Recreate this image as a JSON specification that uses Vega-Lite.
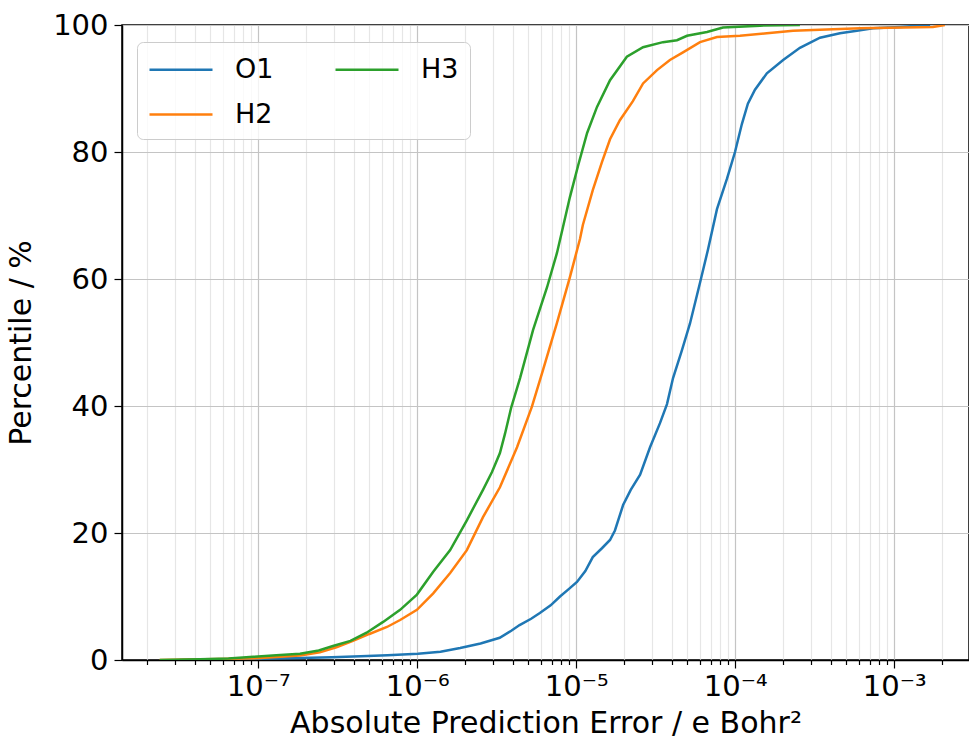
{
  "$schema": "https://vega.github.io/schema/vega-lite/v6.json",
  "width": 847,
  "height": 635,
  "autosize": {"type": "none"},
  "padding": {"left": 122, "top": 25, "right": 0, "bottom": 82},
  "background": "white",
  "config": {
    "font": "DejaVu Sans",
    "view": {"stroke": "black", "strokeWidth": 1.5},
    "axis": {
      "labelColor": "black",
      "titleColor": "black",
      "titleFontWeight": "normal",
      "domainColor": "black",
      "domainWidth": 1.5,
      "tickColor": "black",
      "tickWidth": 1.2
    }
  },
  "data": {
    "values": [
      {"series": "O1", "error": 3.2e-8, "pct": 0},
      {"series": "O1", "error": 5.7e-8, "pct": 0.1},
      {"series": "O1", "error": 1.03e-7, "pct": 0.2},
      {"series": "O1", "error": 1.83e-7, "pct": 0.3},
      {"series": "O1", "error": 2.9e-7, "pct": 0.45},
      {"series": "O1", "error": 4.4e-7, "pct": 0.6},
      {"series": "O1", "error": 6.5e-7, "pct": 0.75},
      {"series": "O1", "error": 1.01e-6, "pct": 1.0},
      {"series": "O1", "error": 1.4e-6, "pct": 1.3},
      {"series": "O1", "error": 1.86e-6, "pct": 1.9},
      {"series": "O1", "error": 2.5e-6, "pct": 2.6},
      {"series": "O1", "error": 3.3e-6, "pct": 3.5},
      {"series": "O1", "error": 3.9e-6, "pct": 4.6},
      {"series": "O1", "error": 4.4e-6, "pct": 5.5},
      {"series": "O1", "error": 5.2e-6, "pct": 6.5},
      {"series": "O1", "error": 5.9e-6, "pct": 7.4},
      {"series": "O1", "error": 6.9e-6, "pct": 8.6},
      {"series": "O1", "error": 7.9e-6, "pct": 10.0},
      {"series": "O1", "error": 9.0e-6, "pct": 11.2},
      {"series": "O1", "error": 1.01e-5, "pct": 12.3},
      {"series": "O1", "error": 1.14e-5, "pct": 14.0},
      {"series": "O1", "error": 1.27e-5, "pct": 16.2},
      {"series": "O1", "error": 1.45e-5, "pct": 17.6},
      {"series": "O1", "error": 1.63e-5, "pct": 18.9},
      {"series": "O1", "error": 1.75e-5, "pct": 20.4},
      {"series": "O1", "error": 1.97e-5, "pct": 24.4},
      {"series": "O1", "error": 2.2e-5, "pct": 26.8},
      {"series": "O1", "error": 2.52e-5, "pct": 29.2},
      {"series": "O1", "error": 2.91e-5, "pct": 33.5},
      {"series": "O1", "error": 3.36e-5, "pct": 37.3},
      {"series": "O1", "error": 3.72e-5, "pct": 40.3},
      {"series": "O1", "error": 4.06e-5, "pct": 44.4},
      {"series": "O1", "error": 4.62e-5, "pct": 48.8},
      {"series": "O1", "error": 5.19e-5, "pct": 53.0},
      {"series": "O1", "error": 6.0e-5, "pct": 59.4},
      {"series": "O1", "error": 6.73e-5, "pct": 64.6},
      {"series": "O1", "error": 7.67e-5, "pct": 71.0},
      {"series": "O1", "error": 8.87e-5, "pct": 75.8},
      {"series": "O1", "error": 9.96e-5, "pct": 80.0},
      {"series": "O1", "error": 1.10e-4, "pct": 84.4},
      {"series": "O1", "error": 1.2e-4, "pct": 87.6},
      {"series": "O1", "error": 1.33e-4, "pct": 89.8},
      {"series": "O1", "error": 1.58e-4, "pct": 92.4},
      {"series": "O1", "error": 2.0e-4, "pct": 94.5},
      {"series": "O1", "error": 2.55e-4, "pct": 96.4},
      {"series": "O1", "error": 3.41e-4, "pct": 98.0},
      {"series": "O1", "error": 4.55e-4, "pct": 98.7},
      {"series": "O1", "error": 5.82e-4, "pct": 99.1},
      {"series": "O1", "error": 7.35e-4, "pct": 99.5},
      {"series": "O1", "error": 1.09e-3, "pct": 99.7},
      {"series": "O1", "error": 1.68e-3, "pct": 100},

      {"series": "H2", "error": 2.4e-8, "pct": 0},
      {"series": "H2", "error": 5.7e-8, "pct": 0.15},
      {"series": "H2", "error": 1.03e-7, "pct": 0.3},
      {"series": "H2", "error": 1.83e-7, "pct": 0.7},
      {"series": "H2", "error": 2.44e-7, "pct": 1.2},
      {"series": "H2", "error": 3.1e-7, "pct": 2.0},
      {"series": "H2", "error": 3.94e-7, "pct": 3.0},
      {"series": "H2", "error": 5.0e-7, "pct": 4.1},
      {"series": "H2", "error": 6.45e-7, "pct": 5.2},
      {"series": "H2", "error": 7.8e-7, "pct": 6.3},
      {"series": "H2", "error": 9.95e-7, "pct": 7.9},
      {"series": "H2", "error": 1.26e-6, "pct": 10.5},
      {"series": "H2", "error": 1.61e-6, "pct": 13.7},
      {"series": "H2", "error": 2.05e-6, "pct": 17.3},
      {"series": "H2", "error": 2.59e-6, "pct": 22.5},
      {"series": "H2", "error": 3.31e-6, "pct": 27.2},
      {"series": "H2", "error": 4.24e-6, "pct": 33.5},
      {"series": "H2", "error": 5.26e-6, "pct": 39.9},
      {"series": "H2", "error": 6.18e-6, "pct": 45.7},
      {"series": "H2", "error": 7.56e-6, "pct": 53.1},
      {"series": "H2", "error": 9.12e-6, "pct": 60.3},
      {"series": "H2", "error": 1.055e-5, "pct": 66.3},
      {"series": "H2", "error": 1.10e-5, "pct": 68.5},
      {"series": "H2", "error": 1.27e-5, "pct": 74.0},
      {"series": "H2", "error": 1.45e-5, "pct": 78.4},
      {"series": "H2", "error": 1.63e-5, "pct": 82.0},
      {"series": "H2", "error": 1.88e-5, "pct": 85.0},
      {"series": "H2", "error": 2.27e-5, "pct": 88.0},
      {"series": "H2", "error": 2.63e-5, "pct": 90.8},
      {"series": "H2", "error": 3.22e-5, "pct": 92.9},
      {"series": "H2", "error": 3.88e-5, "pct": 94.5},
      {"series": "H2", "error": 4.69e-5, "pct": 95.7},
      {"series": "H2", "error": 6.0e-5, "pct": 97.3},
      {"series": "H2", "error": 7.67e-5, "pct": 98.1},
      {"series": "H2", "error": 1.07e-4, "pct": 98.3},
      {"series": "H2", "error": 1.58e-4, "pct": 98.7},
      {"series": "H2", "error": 2.31e-4, "pct": 99.1},
      {"series": "H2", "error": 6.09e-4, "pct": 99.5},
      {"series": "H2", "error": 1.75e-3, "pct": 99.7},
      {"series": "H2", "error": 2.08e-3, "pct": 100},

      {"series": "H3", "error": 2.4e-8, "pct": 0},
      {"series": "H3", "error": 4.3e-8, "pct": 0.1},
      {"series": "H3", "error": 6.5e-8, "pct": 0.25},
      {"series": "H3", "error": 9.3e-8, "pct": 0.5},
      {"series": "H3", "error": 1.3e-7, "pct": 0.75},
      {"series": "H3", "error": 1.83e-7, "pct": 1.0},
      {"series": "H3", "error": 2.4e-7, "pct": 1.5},
      {"series": "H3", "error": 2.95e-7, "pct": 2.2},
      {"series": "H3", "error": 3.8e-7, "pct": 3.0},
      {"series": "H3", "error": 4.8e-7, "pct": 4.3},
      {"series": "H3", "error": 6.1e-7, "pct": 6.0},
      {"series": "H3", "error": 7.8e-7, "pct": 7.9},
      {"series": "H3", "error": 9.95e-7, "pct": 10.3},
      {"series": "H3", "error": 1.26e-6, "pct": 13.9},
      {"series": "H3", "error": 1.61e-6, "pct": 17.3},
      {"series": "H3", "error": 2.05e-6, "pct": 22.0},
      {"series": "H3", "error": 2.59e-6, "pct": 26.8},
      {"series": "H3", "error": 2.95e-6, "pct": 29.6},
      {"series": "H3", "error": 3.31e-6, "pct": 32.6},
      {"series": "H3", "error": 3.56e-6, "pct": 35.6},
      {"series": "H3", "error": 3.9e-6, "pct": 39.8},
      {"series": "H3", "error": 4.43e-6, "pct": 44.4},
      {"series": "H3", "error": 5.35e-6, "pct": 52.0},
      {"series": "H3", "error": 6.55e-6, "pct": 58.7},
      {"series": "H3", "error": 7.56e-6, "pct": 64.1},
      {"series": "H3", "error": 8.25e-6, "pct": 68.2},
      {"series": "H3", "error": 9.12e-6, "pct": 72.9},
      {"series": "H3", "error": 1.03e-5, "pct": 78.0},
      {"series": "H3", "error": 1.17e-5, "pct": 83.0},
      {"series": "H3", "error": 1.35e-5, "pct": 87.1},
      {"series": "H3", "error": 1.63e-5, "pct": 91.3},
      {"series": "H3", "error": 2.08e-5, "pct": 95.0},
      {"series": "H3", "error": 2.63e-5, "pct": 96.5},
      {"series": "H3", "error": 3.51e-5, "pct": 97.3},
      {"series": "H3", "error": 4.3e-5, "pct": 97.6},
      {"series": "H3", "error": 4.97e-5, "pct": 98.3},
      {"series": "H3", "error": 6.64e-5, "pct": 98.9},
      {"series": "H3", "error": 8.37e-5, "pct": 99.6},
      {"series": "H3", "error": 1.43e-4, "pct": 99.9},
      {"series": "H3", "error": 2.55e-4, "pct": 100}
    ]
  },
  "mark": {"type": "line", "strokeWidth": 2.5, "clip": true},
  "encoding": {
    "x": {
      "field": "error",
      "type": "quantitative",
      "scale": {"type": "log", "domain": [1.39e-8, 2.95e-3], "nice": false},
      "axis": {
        "title": "Absolute Prediction Error / e Bohr²",
        "titleFontSize": 30,
        "titlePadding": 7,
        "labelFontSize": 29,
        "labelPadding": 4,
        "labelFlush": false,
        "labelOverlap": false,
        "values": [2e-8, 3e-8, 4e-8, 5e-8, 6e-8, 7e-8, 8e-8, 9e-8,
                   1e-7, 2e-7, 3e-7, 4e-7, 5e-7, 6e-7, 7e-7, 8e-7, 9e-7,
                   1e-6, 2e-6, 3e-6, 4e-6, 5e-6, 6e-6, 7e-6, 8e-6, 9e-6,
                   1e-5, 2e-5, 3e-5, 4e-5, 5e-5, 6e-5, 7e-5, 8e-5, 9e-5,
                   1e-4, 2e-4, 3e-4, 4e-4, 5e-4, 6e-4, 7e-4, 8e-4, 9e-4,
                   1e-3, 2e-3],
        "labelExpr": "datum.value == 1e-7 ? '10⁻⁷' : datum.value == 1e-6 ? '10⁻⁶' : datum.value == 1e-5 ? '10⁻⁵' : datum.value == 1e-4 ? '10⁻⁴' : datum.value == 1e-3 ? '10⁻³' : ''",
        "grid": true,
        "gridColor": {
          "condition": {"test": "datum.value == 1e-7 || datum.value == 1e-6 || datum.value == 1e-5 || datum.value == 1e-4 || datum.value == 1e-3", "value": "#c4c4c4"},
          "value": "#e6e6e6"
        },
        "gridWidth": 1.2,
        "tickSize": {
          "condition": {"test": "datum.value == 1e-7 || datum.value == 1e-6 || datum.value == 1e-5 || datum.value == 1e-4 || datum.value == 1e-3", "value": 8},
          "value": 4.5
        }
      }
    },
    "y": {
      "field": "pct",
      "type": "quantitative",
      "scale": {"domain": [0, 100], "nice": false},
      "axis": {
        "title": "Percentile / %",
        "titleFontSize": 30,
        "titlePadding": 16,
        "labelFontSize": 29,
        "labelPadding": 6,
        "values": [0, 20, 40, 60, 80, 100],
        "tickSize": 8,
        "grid": true,
        "gridColor": "#c4c4c4",
        "gridWidth": 1.2
      }
    },
    "color": {
      "field": "series",
      "type": "nominal",
      "scale": {
        "domain": ["O1", "H2", "H3"],
        "range": ["#1f77b4", "#ff7f0e", "#2ca02c"]
      },
      "legend": {
        "title": null,
        "orient": "none",
        "legendX": 15,
        "legendY": 17,
        "columns": 2,
        "columnPadding": 56,
        "rowPadding": 15,
        "padding": 11,
        "symbolType": "M-1,0H3.2",
        "symbolSize": 900,
        "symbolStrokeWidth": 2.5,
        "labelFontSize": 27,
        "labelColor": "black",
        "labelOffset": 54,
        "fillColor": "rgba(255,255,255,0.8)",
        "strokeColor": "#cccccc",
        "cornerRadius": 6
      }
    }
  }
}
